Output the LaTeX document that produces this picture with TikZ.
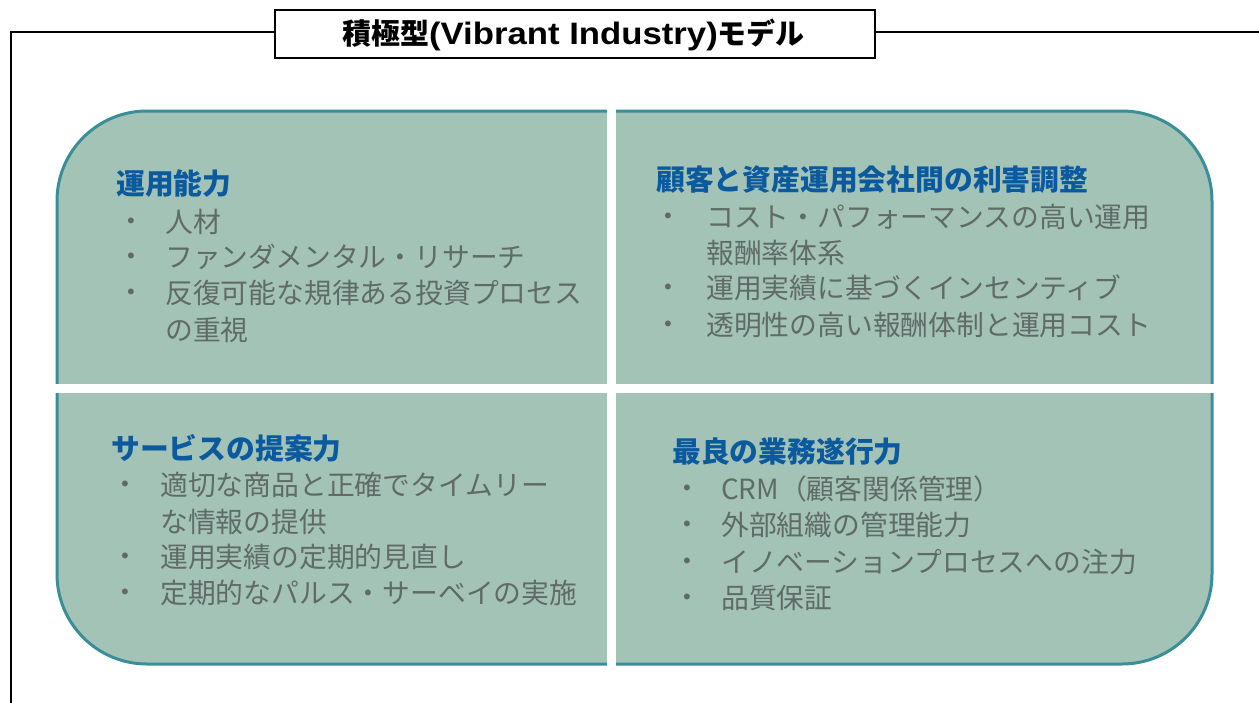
\documentclass[tikz,border=0pt]{standalone}
\usepackage{graphicx}
\usepackage{fontspec}
\setmainfont{Liberation Sans}
\newfontfamily\jp{Noto Sans CJK JP}
\definecolor{qfill}{HTML}{A4C3B7}
\definecolor{qborder}{HTML}{3A8E98}
\definecolor{headblue}{HTML}{0C5A9E}
\definecolor{bodygray}{HTML}{5F6B67}
\tikzset{
  head/.style={anchor=west, inner sep=0pt, text=headblue, font=\fontsize{28.8}{34}\selectfont\jp\bfseries},
  bodyline/.style={anchor=west, inner sep=0pt, text=bodygray, font=\fontsize{27.8}{36}\selectfont\jp},
  bulletmark/.style={anchor=center, inner sep=0pt, text=bodygray, font=\fontsize{27.8}{36}\selectfont\jp},
  titlebox/.style={draw=black, line width=1.6pt, fill=white, minimum width=600pt, minimum height=48pt, inner sep=0pt},
  frameline/.style={draw=black, line width=1.6pt}
}
\begin{document}
\begin{tikzpicture}[x=1pt,y=-1pt]
\useasboundingbox (0,0) rectangle (1259,702);
% quadrants
\draw[fill=qfill, draw=qborder, line width=3pt, rounded corners=90pt] (57,111) rectangle (1212,664);
\fill[white] (606.5,95) rectangle (615.5,680);
\fill[white] (40,383.5) rectangle (1230,392.5);
% frame and title
\coordinate (fl) at (11,32);
\coordinate (fb) at (11,705);
\coordinate (fr) at (1262,32);
\node[titlebox] (title) at (575,34) {};
\node[inner sep=0pt] (titletext) at (573.5,34.5) {{\fontsize{29}{30}\selectfont\jp\bfseries 積極型}\scalebox{1.12}[1]{\fontsize{31}{31}\selectfont\bfseries (Vibrant Industry)}{\fontsize{29}{30}\selectfont\jp\bfseries モデル}};
\draw[frameline] (title.west |- fl) -- (fl) -- (fb);
\draw[frameline] (title.east |- fr) -- (fr);
% top-left
\node[head] (h1) at (116,184) {運用能力};
\node[bulletmark] (b11) at (131,225) {・};
\node[bodyline] (t11) at (165,222) {人材};
\node[bulletmark] (b12) at (131,260) {・};
\node[bodyline] (t12) at (165,257) {ファンダメンタル・リサーチ};
\node[bulletmark] (b13) at (131,296) {・};
\node[bodyline] (t13) at (165,293) {反復可能な規律ある投資プロセス};
\node[bodyline] (t14) at (165,330) {の重視};
% top-right
\node[head] (h2) at (656,180) {顧客と資産運用会社間の利害調整};
\node[bulletmark] (b21) at (668,220) {・};
\node[bodyline] (t21) at (706,217) {コスト・パフォーマンスの高い運用};
\node[bodyline] (t22) at (706,253) {報酬率体系};
\node[bulletmark] (b23) at (668,291) {・};
\node[bodyline] (t23) at (706,288) {運用実績に基づくインセンティブ};
\node[bulletmark] (b24) at (668,328) {・};
\node[bodyline] (t24) at (706,325) {透明性の高い報酬体制と運用コスト};
% bottom-left
\node[head] (h3) at (111,448) {サービスの提案力};
\node[bulletmark] (b31) at (125,488) {・};
\node[bodyline] (t31) at (160,485) {適切な商品と正確でタイムリー};
\node[bodyline] (t32) at (160,522) {な情報の提供};
\node[bulletmark] (b33) at (125,560) {・};
\node[bodyline] (t33) at (160,557) {運用実績の定期的見直し};
\node[bulletmark] (b34) at (125,596) {・};
\node[bodyline] (t34) at (160,593) {定期的なパルス・サーベイの実施};
% bottom-right
\node[head] (h4) at (672,452) {最良の業務遂行力};
\node[bulletmark] (b41) at (687,492) {・};
\node[bodyline] (t41) at (721,489) {CRM（顧客関係管理）};
\node[bulletmark] (b42) at (687,528) {・};
\node[bodyline] (t42) at (721,525) {外部組織の管理能力};
\node[bulletmark] (b43) at (687,565) {・};
\node[bodyline] (t43) at (721,562) {イノベーションプロセスへの注力};
\node[bulletmark] (b44) at (687,601) {・};
\node[bodyline] (t44) at (721,598) {品質保証};
\end{tikzpicture}
\end{document}
